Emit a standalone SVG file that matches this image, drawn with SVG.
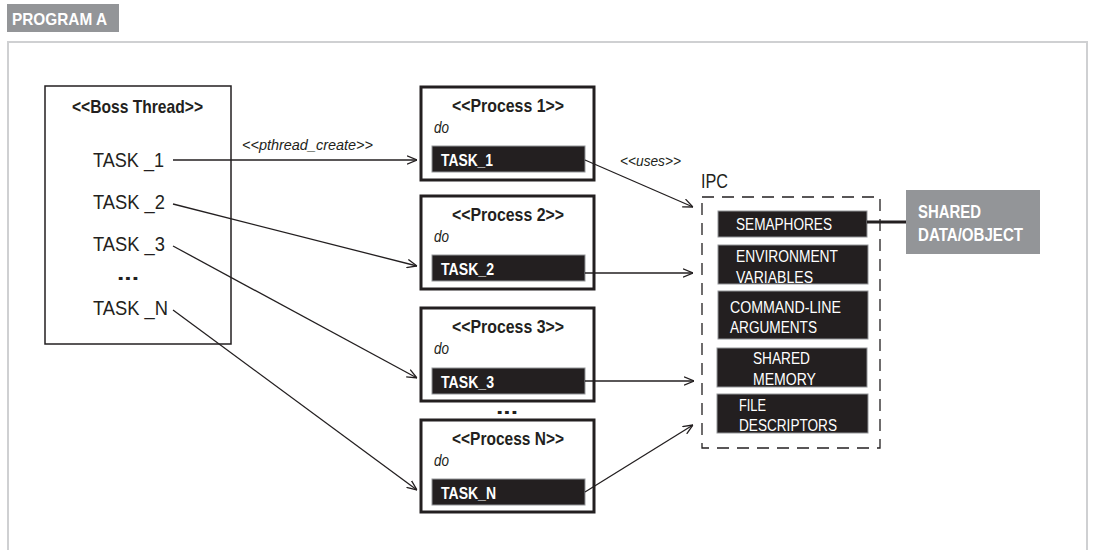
<svg xmlns="http://www.w3.org/2000/svg" width="1095" height="550" viewBox="0 0 1095 550">
<style>
.nb{font-family:"Liberation Sans",Arial,sans-serif;font-weight:bold}
.nr{font-family:"Liberation Sans",Arial,sans-serif}
.it{font-family:"Liberation Sans",Arial,sans-serif;font-style:italic}
.ink{fill:#231f20}
.wt{fill:#ffffff}
.proc{fill:#ffffff;stroke:#231f20;stroke-width:3}
.bar{fill:#231f20;stroke:#939598;stroke-width:1}
.conn{stroke:#231f20;stroke-width:1.3;fill:none}
</style>
<defs>
<marker id="arr" viewBox="0 0 10 10" refX="10" refY="5" markerWidth="10" markerHeight="10" orient="auto" markerUnits="userSpaceOnUse">
<path d="M0,0.8 L10,5 L0,9.2" fill="none" stroke="#231f20" stroke-width="1.3"/>
</marker>
</defs>
<rect width="1095" height="550" fill="#ffffff"/>
<g id="frame">
<rect x="7" y="4" width="112" height="28" fill="#939598"/>
<text x="12" y="25" class="nb wt" font-size="17" textLength="95" lengthAdjust="spacingAndGlyphs">PROGRAM A</text>
<rect x="8" y="42" width="1079" height="530" fill="none" stroke="#cfd0d2" stroke-width="2"/>
</g>
<g id="boss">
<rect x="45" y="86" width="186" height="258" fill="#ffffff" stroke="#231f20" stroke-width="1.5"/>
<text x="137.5" y="113" class="nb ink" font-size="19" text-anchor="middle" textLength="131" lengthAdjust="spacingAndGlyphs">&lt;&lt;Boss Thread&gt;&gt;</text>
<text x="93" y="167" class="nr ink" font-size="20" textLength="71" lengthAdjust="spacingAndGlyphs">TASK _1</text>
<text x="93" y="209" class="nr ink" font-size="20" textLength="72" lengthAdjust="spacingAndGlyphs">TASK _2</text>
<text x="93" y="251" class="nr ink" font-size="20" textLength="72" lengthAdjust="spacingAndGlyphs">TASK _3</text>
<text x="117" y="280" class="nb ink" font-size="20" textLength="22" lengthAdjust="spacingAndGlyphs">...</text>
<text x="93" y="315" class="nr ink" font-size="20" textLength="75" lengthAdjust="spacingAndGlyphs">TASK _N</text>
</g>
<g id="process1">
<rect x="421" y="87" width="173" height="93" class="proc"/>
<text x="508" y="112" class="nb ink" font-size="19" text-anchor="middle" textLength="112" lengthAdjust="spacingAndGlyphs">&lt;&lt;Process 1&gt;&gt;</text>
<text x="434" y="133" class="it ink" font-size="17" textLength="15" lengthAdjust="spacingAndGlyphs">do</text>
<rect x="432" y="146" width="153" height="26" class="bar"/>
<text x="441" y="166" class="nb wt" font-size="17" textLength="52" lengthAdjust="spacingAndGlyphs">TASK_1</text>
</g>
<g id="process2">
<rect x="421" y="196" width="173" height="93" class="proc"/>
<text x="508" y="221" class="nb ink" font-size="19" text-anchor="middle" textLength="112" lengthAdjust="spacingAndGlyphs">&lt;&lt;Process 2&gt;&gt;</text>
<text x="434" y="242" class="it ink" font-size="17" textLength="15" lengthAdjust="spacingAndGlyphs">do</text>
<rect x="432" y="255" width="153" height="26" class="bar"/>
<text x="441" y="275" class="nb wt" font-size="17" textLength="53" lengthAdjust="spacingAndGlyphs">TASK_2</text>
</g>
<g id="process3">
<rect x="421" y="308" width="173" height="93" class="proc"/>
<text x="508" y="333" class="nb ink" font-size="19" text-anchor="middle" textLength="112" lengthAdjust="spacingAndGlyphs">&lt;&lt;Process 3&gt;&gt;</text>
<text x="434" y="354" class="it ink" font-size="17" textLength="15" lengthAdjust="spacingAndGlyphs">do</text>
<rect x="432" y="368" width="153" height="26" class="bar"/>
<text x="441" y="388" class="nb wt" font-size="17" textLength="53" lengthAdjust="spacingAndGlyphs">TASK_3</text>
</g>
<text x="496" y="414" class="nb ink" font-size="20" textLength="22" lengthAdjust="spacingAndGlyphs">...</text>
<g id="processN">
<rect x="421" y="420" width="173" height="92" class="proc"/>
<text x="508" y="445" class="nb ink" font-size="19" text-anchor="middle" textLength="112" lengthAdjust="spacingAndGlyphs">&lt;&lt;Process N&gt;&gt;</text>
<text x="434" y="466" class="it ink" font-size="17" textLength="15" lengthAdjust="spacingAndGlyphs">do</text>
<rect x="432" y="479" width="153" height="26" class="bar"/>
<text x="441" y="499" class="nb wt" font-size="17" textLength="55" lengthAdjust="spacingAndGlyphs">TASK_N</text>
</g>
<g id="ipc">
<text x="701" y="188" class="nr ink" font-size="21" textLength="27" lengthAdjust="spacingAndGlyphs">IPC</text>
<rect x="702" y="197" width="178" height="251" fill="none" stroke="#231f20" stroke-width="1.3" stroke-dasharray="12,8"/>
<rect x="718" y="211" width="149" height="26" class="bar"/>
<text x="736" y="230" class="nr wt" font-size="16" textLength="96" lengthAdjust="spacingAndGlyphs">SEMAPHORES</text>
<rect x="718" y="245" width="150" height="39" class="bar"/>
<text x="736" y="262" class="nr wt" font-size="16" textLength="102" lengthAdjust="spacingAndGlyphs">ENVIRONMENT</text>
<text x="736" y="283" class="nr wt" font-size="16" textLength="77" lengthAdjust="spacingAndGlyphs">VARIABLES</text>
<rect x="718" y="291" width="150" height="48" class="bar"/>
<text x="730" y="313" class="nr wt" font-size="16" textLength="111" lengthAdjust="spacingAndGlyphs">COMMAND-LINE</text>
<text x="730" y="333" class="nr wt" font-size="16" textLength="87" lengthAdjust="spacingAndGlyphs">ARGUMENTS</text>
<rect x="717" y="348" width="150" height="39" class="bar"/>
<text x="753" y="364" class="nr wt" font-size="16" textLength="57" lengthAdjust="spacingAndGlyphs">SHARED</text>
<text x="753" y="385" class="nr wt" font-size="16" textLength="63" lengthAdjust="spacingAndGlyphs">MEMORY</text>
<rect x="717" y="394" width="151" height="39" class="bar"/>
<text x="739" y="411" class="nr wt" font-size="16" textLength="27" lengthAdjust="spacingAndGlyphs">FILE</text>
<text x="739" y="431" class="nr wt" font-size="16" textLength="98" lengthAdjust="spacingAndGlyphs">DESCRIPTORS</text>
</g>
<g id="shared">
<rect x="906" y="190" width="134" height="64" fill="#939598"/>
<text x="918" y="218" class="nb wt" font-size="19" textLength="63" lengthAdjust="spacingAndGlyphs">SHARED</text>
<text x="918" y="241" class="nb wt" font-size="19" textLength="105" lengthAdjust="spacingAndGlyphs">DATA/OBJECT</text>
</g>
<g id="connectors">
<line x1="173" y1="160" x2="417" y2="160" class="conn" marker-end="url(#arr)"/>
<text x="242" y="150" class="it ink" font-size="14" textLength="131" lengthAdjust="spacingAndGlyphs">&lt;&lt;pthread_create&gt;&gt;</text>
<line x1="173" y1="204" x2="417" y2="266" class="conn" marker-end="url(#arr)"/>
<line x1="173" y1="246" x2="417" y2="378" class="conn" marker-end="url(#arr)"/>
<line x1="173" y1="310" x2="417" y2="490" class="conn" marker-end="url(#arr)"/>
<line x1="585" y1="160" x2="693" y2="207" class="conn" marker-end="url(#arr)"/>
<text x="620" y="166" class="it ink" font-size="14" textLength="61" lengthAdjust="spacingAndGlyphs">&lt;&lt;uses&gt;&gt;</text>
<line x1="585" y1="273" x2="693" y2="273" class="conn" marker-end="url(#arr)"/>
<line x1="585" y1="381" x2="694" y2="381" class="conn" marker-end="url(#arr)"/>
<line x1="585" y1="492" x2="693" y2="425" class="conn" marker-end="url(#arr)"/>
<line x1="867" y1="222" x2="906" y2="222" stroke="#231f20" stroke-width="3"/>
</g>
</svg>
